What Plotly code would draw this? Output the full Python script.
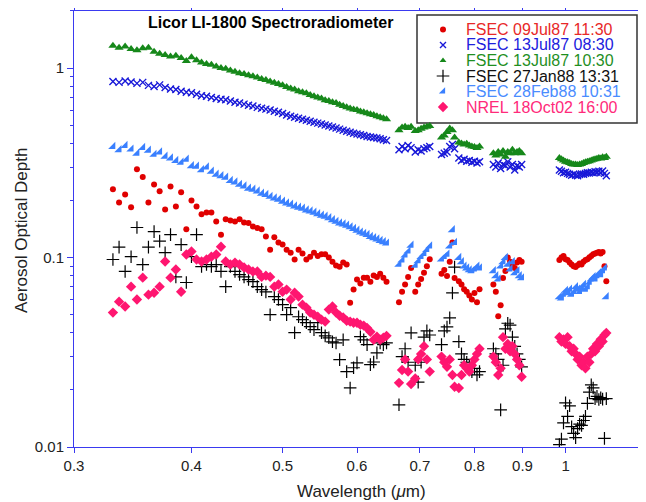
import plotly.graph_objects as go

# Measurement wavelengths (micrometres); gaps are the absorption bands
wavelength = [
    0.330, 0.335, 0.340, 0.345, 0.350, 0.355, 0.360, 0.365, 0.370, 0.375,
    0.380, 0.385, 0.390, 0.395, 0.400, 0.405, 0.410, 0.415, 0.420, 0.425,
    0.430, 0.435, 0.440, 0.445, 0.450, 0.455, 0.460, 0.465, 0.470, 0.475,
    0.480, 0.485, 0.490, 0.495, 0.500, 0.505, 0.510, 0.515, 0.520, 0.525,
    0.530, 0.535, 0.540, 0.545, 0.550, 0.555, 0.560, 0.565, 0.570, 0.575,
    0.580, 0.585, 0.590, 0.595, 0.600, 0.605, 0.610, 0.615, 0.620, 0.625,
    0.630, 0.635, 0.640, 0.645,
    0.665, 0.670, 0.675, 0.680, 0.685,
    0.692, 0.697, 0.702, 0.707, 0.712, 0.717,
    0.738, 0.743, 0.748, 0.753, 0.758, 0.762,
    0.770, 0.775, 0.780, 0.785, 0.790, 0.795, 0.800, 0.805, 0.810,
    0.838, 0.843, 0.848, 0.853, 0.858, 0.863, 0.868, 0.873, 0.878, 0.883, 0.888, 0.893, 0.898,
    0.985, 0.990, 0.995, 1.000, 1.005, 1.010, 1.015, 1.020, 1.025, 1.030, 1.035, 1.040, 1.045,
    1.050, 1.055, 1.060, 1.065, 1.070, 1.075, 1.080, 1.085, 1.090, 1.095, 1.100, 1.105,
]

fsec_09jul87_1130 = [
    0.229, 0.195, 0.215, 0.184, 0.292, 0.266, 0.195, 0.243, 0.224, 0.179,
    0.237, 0.186, 0.221, 0.141, 0.200, 0.186, 0.169, 0.173, 0.173, 0.155,
    0.132, 0.159, 0.157, 0.155, 0.159, 0.153, 0.152, 0.146, 0.143, 0.141,
    0.129, 0.110, 0.128, 0.120, 0.117, 0.110, 0.106, 0.0976, 0.110, 0.105,
    0.0976, 0.101, 0.106, 0.102, 0.104, 0.104, 0.100, 0.095, 0.0907, 0.0895,
    0.094, 0.0918, 0.0578, 0.0677, 0.0765, 0.073, 0.0783, 0.0783, 0.0746, 0.0803,
    0.079, 0.082, 0.0783, 0.0746,
    0.058, 0.066, 0.072, 0.079, 0.088,
    0.066, 0.072, 0.077, 0.083, 0.090, 0.098,
    0.082, 0.086, 0.080, 0.095, 0.120, 0.078,
    0.075, 0.072, 0.068, 0.066, 0.063, 0.060, 0.065, 0.058, 0.068,
    0.072, 0.066, 0.049, 0.056, 0.078, 0.085, 0.100, 0.095, 0.090, 0.088, 0.094, 0.097, 0.095,
    0.097, 0.100, 0.102, 0.098, 0.097, 0.094, 0.092, 0.090, 0.089, 0.091, 0.093, 0.092, 0.095,
    0.097, 0.098, 0.100, 0.102, 0.104, 0.105, 0.106, 0.107, 0.105, 0.107, 0.090, 0.075,
]

fsec_13jul87_0830 = [
    0.850, 0.840, 0.855, 0.845, 0.830, 0.840, 0.810, 0.800, 0.815, 0.790,
    0.775, 0.770, 0.755, 0.745, 0.740, 0.728, 0.715, 0.710, 0.700, 0.690,
    0.685, 0.680, 0.670, 0.660, 0.653, 0.645, 0.637, 0.630, 0.620, 0.613,
    0.607, 0.600, 0.592, 0.585, 0.575, 0.565, 0.557, 0.550, 0.543, 0.537,
    0.530, 0.524, 0.518, 0.512, 0.506, 0.500, 0.494, 0.488, 0.482, 0.476,
    0.470, 0.464, 0.458, 0.453, 0.448, 0.444, 0.440, 0.435, 0.432, 0.430,
    0.427, 0.423, 0.418, 0.415,
    0.370, 0.385, 0.375, 0.390, 0.380,
    0.360, 0.370, 0.365, 0.375, 0.380, 0.385,
    0.350, 0.355, 0.360, 0.385, 0.395, 0.375,
    0.335, 0.325, 0.330, 0.322, 0.325, 0.318, 0.322, 0.315, 0.320,
    0.310, 0.300, 0.315, 0.295, 0.310, 0.305, 0.320, 0.300, 0.310, 0.290, 0.305, 0.300, 0.310,
    0.290, 0.285, 0.280, 0.282, 0.278, 0.275, 0.272, 0.275, 0.272, 0.270, 0.274, 0.276, 0.275,
    0.278, 0.280, 0.279, 0.282, 0.280, 0.284, 0.282, 0.285, 0.280, 0.286, 0.278, 0.270,
]

fsec_13jul87_1030 = [
    1.31, 1.28, 1.30, 1.26, 1.24, 1.27, 1.28, 1.22, 1.19, 1.17,
    1.15, 1.16, 1.13, 1.09, 1.14, 1.10, 1.07, 1.05, 1.04, 1.02,
    1.00, 0.990, 0.970, 0.955, 0.940, 0.930, 0.915, 0.905, 0.890, 0.875,
    0.865, 0.850, 0.835, 0.823, 0.810, 0.795, 0.780, 0.770, 0.755, 0.745,
    0.735, 0.720, 0.710, 0.700, 0.690, 0.677, 0.670, 0.660, 0.653, 0.640,
    0.630, 0.620, 0.612, 0.605, 0.600, 0.590, 0.585, 0.578, 0.570, 0.565,
    0.557, 0.550, 0.543, 0.537,
    0.470, 0.485, 0.490, 0.483, 0.490,
    0.465, 0.470, 0.478, 0.485, 0.490, 0.495,
    0.430, 0.440, 0.460, 0.480, 0.470, 0.430,
    0.405, 0.400, 0.395, 0.398, 0.390, 0.385, 0.383, 0.378, 0.385,
    0.355, 0.345, 0.360, 0.350, 0.365, 0.340, 0.360, 0.355, 0.370, 0.355, 0.360, 0.365, 0.355,
    0.335, 0.330, 0.325, 0.320, 0.318, 0.315, 0.312, 0.310, 0.310, 0.308, 0.310, 0.312, 0.315,
    0.318, 0.320, 0.322, 0.325, 0.328, 0.330, 0.332, 0.335, 0.333, 0.338, 0.335, 0.340,
]

fsec_27jan88_1331 = [
    0.0976, 0.1134, 0.0844, 0.101, 0.144, 0.0918, 0.1134, 0.137, 0.122, 0.106,
    0.132, 0.079, 0.117, 0.0738, 0.101, 0.132, 0.0896, 0.0918, 0.0896, 0.0918,
    0.0844, 0.0702, 0.0896, 0.0844, 0.0813, 0.079, 0.0765, 0.0746, 0.0702, 0.0677,
    0.0658, 0.0499, 0.0622, 0.060, 0.0564, 0.0499, 0.0544, 0.0401, 0.0487, 0.047,
    0.0453, 0.0432, 0.0416, 0.0453, 0.0401, 0.0386, 0.0377, 0.0359, 0.0354, 0.0289,
    0.0368, 0.025, 0.0205, 0.0262, 0.0278, 0.0382, 0.0368, 0.0347, 0.0272, 0.0281,
    0.0314, 0.0354, 0.0347, 0.0354,
    0.0167, 0.030, 0.033, 0.028, 0.040,
    0.027, 0.022, 0.028, 0.038, 0.041, 0.039,
    0.0347, 0.041, 0.043, 0.048, 0.065, 0.089,
    0.036, 0.031, 0.029, 0.028, 0.027, 0.025, 0.026, 0.024, 0.025,
    0.033, 0.031, 0.029, 0.0157, 0.027, 0.042, 0.045, 0.044, 0.038, 0.034, 0.031, 0.029, 0.0265,
    0.0103, 0.011, 0.0134, 0.0171, 0.0145, 0.0165, 0.0128, 0.0118, 0.0112, 0.0125, 0.0132, 0.013, 0.0138,
    0.0145, 0.017, 0.0195, 0.0213, 0.0205, 0.018, 0.0185, 0.0178, 0.0182, 0.0179, 0.0111, 0.018,
]

fsec_28feb88_1031 = [
    0.385, 0.370, 0.390, 0.373, 0.355, 0.380, 0.368, 0.350, 0.360, 0.342,
    0.335, 0.325, 0.318, 0.330, 0.305, 0.303, 0.290, 0.300, 0.285, 0.275,
    0.270, 0.265, 0.255, 0.250, 0.243, 0.238, 0.232, 0.229, 0.224, 0.218,
    0.215, 0.210, 0.206, 0.203, 0.198, 0.194, 0.191, 0.187, 0.184, 0.182,
    0.178, 0.176, 0.173, 0.170, 0.167, 0.165, 0.162, 0.158, 0.155, 0.152,
    0.150, 0.148, 0.145, 0.142, 0.139, 0.136, 0.134, 0.132, 0.129, 0.127,
    0.125, 0.123, 0.121, 0.119,
    0.092, 0.097, 0.103, 0.108, 0.116,
    0.091, 0.096, 0.101, 0.105, 0.110, 0.115,
    0.098, 0.101, 0.104, 0.115, 0.140, 0.120,
    0.100, 0.095, 0.090, 0.088, 0.086, 0.085, 0.087, 0.090, 0.088,
    0.085, 0.080, 0.077, 0.090, 0.095, 0.100, 0.092, 0.087, 0.095, 0.083, 0.085, 0.080, 0.078,
    0.062, 0.061, 0.064, 0.067, 0.065, 0.068, 0.064, 0.066, 0.070, 0.068, 0.066, 0.069, 0.072,
    0.068, 0.070, 0.074, 0.077, 0.079, 0.077, 0.080, 0.083, 0.081, 0.085, 0.088, 0.062,
]

nrel_18oct02_1600 = [
    0.0512, 0.0585, 0.0551, 0.0702, 0.060, 0.0783, 0.0637, 0.0652, 0.0702, 0.0953,
    0.0783, 0.0864, 0.066, 0.1037, 0.1075, 0.0976, 0.0953, 0.0976, 0.101, 0.1037,
    0.114, 0.0953, 0.0918, 0.094, 0.0918, 0.0885, 0.0864, 0.0843, 0.0843, 0.079,
    0.0802, 0.079, 0.0702, 0.072, 0.066, 0.0677, 0.060, 0.0652, 0.0622, 0.0564,
    0.0544, 0.0512, 0.0499, 0.0487, 0.047, 0.0459, 0.0531, 0.0551, 0.0512, 0.0493,
    0.0482, 0.0464, 0.0459, 0.0453, 0.0453, 0.0442, 0.0437, 0.0425, 0.0406, 0.0368,
    0.0382, 0.0368, 0.0377, 0.0386,
    0.0218, 0.0255, 0.029, 0.025, 0.0215,
    0.023, 0.029, 0.031, 0.034, 0.029, 0.025,
    0.030, 0.028, 0.0265, 0.029, 0.024, 0.0208,
    0.0205, 0.024, 0.027, 0.026, 0.025, 0.027, 0.029, 0.031, 0.033,
    0.030, 0.028, 0.024, 0.026, 0.038, 0.033, 0.035, 0.032, 0.034, 0.031, 0.029, 0.027, 0.0235,
    0.038, 0.036, 0.037, 0.035, 0.038, 0.034, 0.032, 0.033, 0.031, 0.029, 0.030, 0.027, 0.028,
    0.026, 0.030, 0.028, 0.031, 0.033, 0.032, 0.035, 0.034, 0.037, 0.036, 0.039, 0.040,
]

series_names = ["FSEC 09Jul87 11:30", "FSEC 13Jul87 08:30", "FSEC 13Jul87 10:30",
                "FSEC 27Jan88 13:31", "FSEC 28Feb88 10:31", "NREL 18Oct02 16:00"]
series_values = [fsec_09jul87_1130, fsec_13jul87_0830, fsec_13jul87_1030,
                 fsec_27jan88_1331, fsec_28feb88_1031, nrel_18oct02_1600]

x_tick_values = [0.3, 0.4, 0.5, 0.6, 0.7, 0.8, 0.9, 1.0]
x_tick_labels = ["0.3", "0.4", "0.5", "0.6", "0.7", "0.8", "0.9", "1"]
y_tick_values = [0.01, 0.1, 1]
y_tick_labels = ["0.01", "0.1", "1"]
y_minor_values = [0.02, 0.03, 0.04, 0.05, 0.06, 0.07, 0.08, 0.09,
                  0.2, 0.3, 0.4, 0.5, 0.6, 0.7, 0.8, 0.9, 2.0]

styles = [
    dict(color="#e00000", legend_color="#e82828", symbol="circle", size=6, legend_size=6),
    dict(color="#1818d8", legend_color="#2020dd", symbol="x-thin-open", size=7, legend_size=6, lw=1.4),
    dict(color="#16881a", legend_color="#1f8f1f", symbol="triangle-up", size=8, legend_size=6),
    dict(color="#000000", legend_color="#111111", symbol="cross-thin-open", size=9, legend_size=9, lw=1.2),
    dict(color="#3a80ff", legend_color="#4a8cff", symbol="triangle-se", size=8, legend_size=7),
    dict(color="#ff1670", legend_color="#ff2a7a", symbol="diamond", size=8, legend_size=8),
]

# The page body has an 8px margin, so the figure is drawn 8px in from the
# top-left corner of the window.  Geometry below is in window pixels.
BODY = 8
WIN_W, WIN_H = 646, 502
PLOT_L, PLOT_R, PLOT_T, PLOT_B = 74, 640, 11, 447
PW, PH = PLOT_R - PLOT_L, PLOT_B - PLOT_T
FIG_W, FIG_H = WIN_W - BODY, WIN_H - BODY


def px_x(p):
    return (p - PLOT_L) / PW


def px_y(p):
    return (PLOT_B - p) / PH


fig = go.Figure()
for name, vals, st in zip(series_names, series_values, styles):
    marker = dict(color=st["color"], symbol=st["symbol"], size=st["size"],
                  line=dict(width=st.get("lw", 0), color=st["color"]))
    fig.add_trace(go.Scatter(x=wavelength, y=vals, mode="markers", marker=marker,
                             name=name, showlegend=False))

# legend (box, symbols, coloured labels)
legend_rows = [29.5, 45.0, 60.5, 76.0, 91.5, 107.0]
for st, row in zip(styles, legend_rows):
    fig.add_trace(go.Scatter(
        x=[px_x(443)], y=[px_y(row)], xaxis="x2", yaxis="y2", mode="markers",
        marker=dict(color=st["color"], symbol=st["symbol"], size=st["legend_size"],
                    line=dict(width=st.get("lw", 0), color=st["color"])),
        showlegend=False, hoverinfo="skip"))

annotations = [dict(text="<b>Licor LI-1800 Spectroradiometer</b>", xref="paper", yref="paper",
                    x=px_x(270), y=px_y(22), xanchor="center", yanchor="middle",
                    showarrow=False, font=dict(size=16, color="black"))]
for name, st, row in zip(series_names, styles, legend_rows):
    annotations.append(dict(text=name, xref="paper", yref="paper", x=px_x(464), y=px_y(row),
                            xanchor="left", yanchor="middle", showarrow=False,
                            font=dict(size=16, color=st["legend_color"])))
annotations.append(dict(text="Wavelength (<i>μ</i>m)", xref="paper", yref="paper",
                        x=px_x(361), y=px_y(491), xanchor="center", yanchor="middle",
                        showarrow=False, font=dict(size=17, color="#222222")))
annotations.append(dict(text="Aerosol Optical Depth", xref="paper", yref="paper",
                        x=px_x(21), y=px_y(231), xanchor="center", yanchor="middle",
                        textangle=-90, showarrow=False, font=dict(size=17, color="#222222")))

shapes = [dict(type="rect", xref="paper", yref="paper",
               x0=px_x(417), x1=px_x(637), y0=px_y(123), y1=px_y(15),
               line=dict(color="#333333", width=1.5), fillcolor="white", layer="below")]

axis_blue = "#3a3af0"
fig.update_layout(
    width=FIG_W, height=FIG_H,
    margin=dict(l=PLOT_L - BODY, r=WIN_W - PLOT_R, t=PLOT_T - BODY, b=WIN_H - PLOT_B, pad=0),
    plot_bgcolor="white", paper_bgcolor="white",
    showlegend=False,
    font=dict(family="Liberation Sans, Arial, sans-serif", size=15, color="#222222"),
    xaxis=dict(type="log", range=[-0.5229, 0.0792], showgrid=False, zeroline=False,
               showline=True, linecolor=axis_blue, linewidth=1, mirror="ticks",
               ticks="outside", ticklen=5, tickcolor=axis_blue, automargin=False,
               tickvals=x_tick_values, ticktext=x_tick_labels),
    yaxis=dict(type="log", range=[-2, 0.301], showgrid=False, zeroline=False,
               showline=True, linecolor=axis_blue, linewidth=1, mirror="ticks",
               ticks="outside", ticklen=6, tickcolor=axis_blue, automargin=False,
               tickvals=y_tick_values, ticktext=y_tick_labels,
               minor=dict(tickvals=y_minor_values, ticks="outside", ticklen=3,
                          tickcolor=axis_blue, showgrid=False)),
    xaxis2=dict(overlaying="x", range=[0, 1], visible=False, fixedrange=True),
    yaxis2=dict(overlaying="y", range=[0, 1], visible=False, fixedrange=True),
    annotations=annotations,
    shapes=shapes,
)

fig.write_html("out.html")
